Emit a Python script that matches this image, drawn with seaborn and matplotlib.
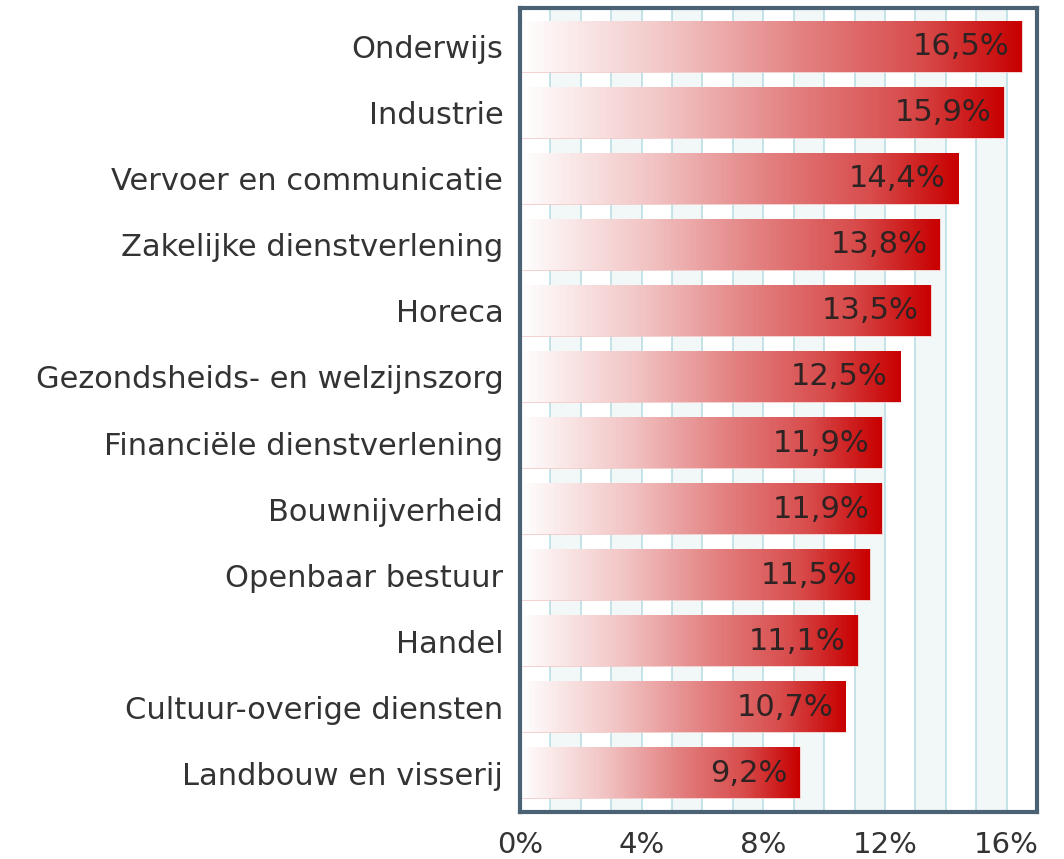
import numpy as np
import pandas as pd
import matplotlib
matplotlib.use('Agg')
import matplotlib.pyplot as plt
from matplotlib.colors import LinearSegmentedColormap
import seaborn as sns

# sectors and share (%) as shown in the chart
sectors = ['Onderwijs', 'Industrie', 'Vervoer en communicatie',
           'Zakelijke dienstverlening', 'Horeca',
           'Gezondsheids- en welzijnszorg', 'Financiële dienstverlening',
           'Bouwnijverheid', 'Openbaar bestuur', 'Handel',
           'Cultuur-overige diensten', 'Landbouw en visserij']
values = [16.5, 15.9, 14.4, 13.8, 13.5, 12.5, 11.9, 11.9, 11.5, 11.1, 10.7, 9.2]
value_labels = ['16,5%', '15,9%', '14,4%', '13,8%', '13,5%', '12,5%',
                '11,9%', '11,9%', '11,5%', '11,1%', '10,7%', '9,2%']
xticks = [0, 4, 8, 12, 16]
xtick_labels = ['0%', '4%', '8%', '12%', '16%']

df = pd.DataFrame({'sector': sectors, 'value': values})

sns.set_style('white')
plt.rcParams['font.family'] = ['DejaVu Sans']

fig = plt.figure(figsize=(10.64, 8.59), dpi=100)
ax = fig.add_axes([0.4887, 0.0547, 0.486, 0.936])

# background: alternating light bands and thin vertical gridlines
for k in range(1, 17, 2):
    ax.axvspan(k, k + 1, color='#f2f7f8', zorder=0, lw=0)
for k in range(1, 17):
    ax.axvline(k, color='#bfe0e6', lw=1.3, zorder=0.5)

sns.barplot(data=df, x='value', y='sector', orient='h', width=0.76,
            color='#f4c8c8', edgecolor='#f4c8c8', linewidth=1.2,
            ax=ax, zorder=1)

cmap = LinearSegmentedColormap.from_list(
    'bar_red', [(0, '#ffffff'), (0.3, '#f2c4c4'), (0.55, '#e48484'),
                (0.8, '#d84c4c'), (1, '#c80000')])
grad = np.tile(np.linspace(0, 1, 512), (2, 1))

bars = list(ax.containers[0])
for patch, lab in zip(bars, value_labels):
    x0, y0 = patch.get_x(), patch.get_y()
    w, h = patch.get_width(), patch.get_height()
    ax.imshow(grad, cmap=cmap, aspect='auto', extent=(x0, x0 + w, y0 + h, y0),
              zorder=2, interpolation='nearest')
    ax.annotate(lab, (x0 + w, y0 + h / 2), xytext=(-9, 0),
                textcoords='offset points', ha='right', va='center',
                fontsize=22, color='#2e2222', zorder=3)

ax.set_xlim(0, 17)
ax.set_ylim(11.59, -0.59)
ax.set_xticks(xticks)
ax.set_xticklabels(xtick_labels, fontsize=21, color='#333333')
ax.tick_params(axis='y', labelsize=22, labelcolor='#333333', pad=12, length=0)
ax.tick_params(axis='x', pad=14, length=0)
ax.set_xlabel('')
ax.set_ylabel('')

for s in ax.spines.values():
    s.set_visible(True)
    s.set_color('#4b6274')
    s.set_linewidth(3)
    s.set_zorder(4)

plt.savefig('out.png', dpi=100)
